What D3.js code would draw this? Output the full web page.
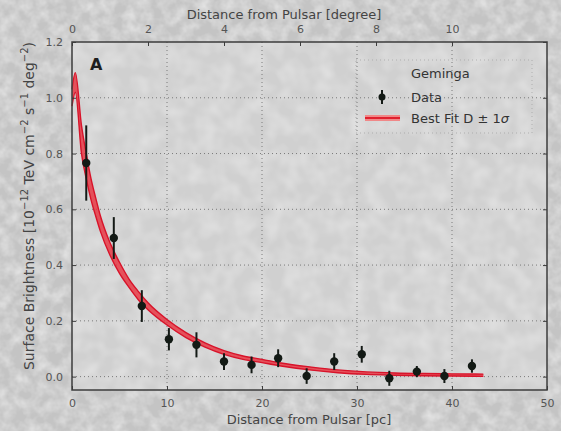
<!DOCTYPE html>
<html>
<head>
<meta charset="utf-8">
<script src="https://cdn.jsdelivr.net/npm/d3@7"></script>
<style>
  html, body { margin: 0; padding: 0; background: #c8c8c8; }
  svg { display: block; font-family: "DejaVu Sans", sans-serif; }
</style>
</head>
<body>
<svg id="chart" width="561" height="431"></svg>
<script>
// Radial profile of the TeV halo around Geminga
const dataDistance = [1.5, 4.4, 7.35, 10.2, 13.1, 16.0, 18.9, 21.7, 24.7, 27.6, 30.5, 33.4, 36.3, 39.2, 42.1];
const dataBrightness = [0.766, 0.497, 0.253, 0.134, 0.114, 0.054, 0.042, 0.066, 0.002, 0.054, 0.080, -0.006, 0.018, 0.002, 0.038];
const dataError = [0.135, 0.075, 0.057, 0.04, 0.045, 0.03, 0.03, 0.032, 0.028, 0.03, 0.03, 0.027, 0.02, 0.025, 0.024];

// Best-fit diffusion model envelope (D ± 1σ)
const fitDistance = [0, 0.35, 1.0, 1.5, 2.0, 2.5, 3.0, 4.0, 5.0, 6.0, 7.0, 8.0, 10, 12, 14, 16, 18, 20, 22, 25, 28, 31, 34, 37, 40, 43.3];
const fitUpper = [1.03, 1.09, 0.90, 0.80, 0.71, 0.64, 0.575, 0.48, 0.41, 0.35, 0.305, 0.265, 0.205, 0.158, 0.121, 0.093, 0.074, 0.062, 0.049, 0.035, 0.024, 0.017, 0.013, 0.011, 0.010, 0.009];
const fitLower = [0.97, 1.02, 0.80, 0.71, 0.635, 0.575, 0.52, 0.435, 0.37, 0.32, 0.275, 0.24, 0.185, 0.140, 0.106, 0.080, 0.062, 0.050, 0.038, 0.024, 0.014, 0.008, 0.005, 0.003, 0.002, 0.001];

const pcTicks = [0, 10, 20, 30, 40, 50];
const degreeTicks = [0, 2, 4, 6, 8, 10];
const brightnessTicks = [0.0, 0.2, 0.4, 0.6, 0.8, 1.0, 1.2];

const legendTitle = "Geminga";
const legendData = "Data";
const legendFit = "Best Fit D \u00b1 1";
const legendFitSymbol = "\u03c3";

const svg = d3.select("#chart");
const W = 561, H = 431;
const m = { left: 72, right: 547, top: 42, bottom: 390 };

const x = d3.scaleLinear().domain([0, 50]).range([m.left, m.right]);
const xDeg = d3.scaleLinear().domain([0, 12.5]).range([m.left, m.right]);
const y = d3.scaleLinear().domain([-0.048, 1.2]).range([m.bottom, m.top]);

// grainy backdrop
const defs = svg.append("defs");
const grain = defs.append("filter").attr("id", "grain").attr("x", 0).attr("y", 0).attr("width", "100%").attr("height", "100%");
grain.append("feTurbulence").attr("type", "fractalNoise").attr("baseFrequency", 0.08).attr("numOctaves", 3).attr("seed", 7).attr("result", "noise");
grain.append("feColorMatrix").attr("in", "noise").attr("type", "matrix")
  .attr("values", "0 0 0 0 1  0 0 0 0 1  0 0 0 0 1  0.9 0 0 0 -0.3");
const grainInner = defs.append("filter").attr("id", "grainInner").attr("x", 0).attr("y", 0).attr("width", "100%").attr("height", "100%");
grainInner.append("feTurbulence").attr("type", "fractalNoise").attr("baseFrequency", 0.06).attr("numOctaves", 2).attr("seed", 3).attr("result", "noise");
grainInner.append("feColorMatrix").attr("in", "noise").attr("type", "matrix")
  .attr("values", "0 0 0 0 1  0 0 0 0 1  0 0 0 0 1  0.6 0 0 0 -0.2");

svg.append("rect").attr("width", W).attr("height", H).attr("fill", "#c4c4c4");
svg.append("rect").attr("width", W).attr("height", H).attr("filter", "url(#grain)");
svg.append("rect").attr("x", m.left).attr("y", m.top).attr("width", m.right - m.left).attr("height", m.bottom - m.top)
  .attr("fill", "#d0d0d0");
svg.append("rect").attr("x", m.left).attr("y", m.top).attr("width", m.right - m.left).attr("height", m.bottom - m.top)
  .attr("filter", "url(#grainInner)");

// dotted grid
const grid = svg.append("g").attr("stroke", "#7a7a7a").attr("stroke-width", 1).attr("stroke-dasharray", "1,3");
grid.selectAll("line.v").data(pcTicks.filter(d => d > 0 && d < 50)).join("line")
  .attr("x1", d => x(d)).attr("x2", d => x(d)).attr("y1", m.top).attr("y2", m.bottom);
grid.selectAll("line.h").data(brightnessTicks.filter(d => d < 1.2)).join("line")
  .attr("x1", m.left).attr("x2", m.right).attr("y1", d => y(d)).attr("y2", d => y(d));

// fit envelope
const band = fitDistance.map((r, i) => ({ r, hi: fitUpper[i], lo: fitLower[i] }));
svg.append("path").datum(band)
  .attr("d", d3.area().x(d => x(d.r)).y0(d => y(d.lo)).y1(d => y(d.hi)).curve(d3.curveMonotoneX))
  .attr("fill", "#e8303c").attr("fill-opacity", 0.8);
["hi", "lo"].forEach(k => {
  svg.append("path").datum(band)
    .attr("d", d3.line().x(d => x(d.r)).y(d => y(d[k])).curve(d3.curveMonotoneX))
    .attr("fill", "none").attr("stroke", "#d8132a").attr("stroke-width", 1.4);
});

// data points with error bars
const pts = dataDistance.map((r, i) => ({ r, v: dataBrightness[i], e: dataError[i] }));
const pg = svg.append("g");
pg.selectAll("line").data(pts).join("line")
  .attr("x1", d => x(d.r)).attr("x2", d => x(d.r))
  .attr("y1", d => y(d.v + d.e)).attr("y2", d => y(d.v - d.e))
  .attr("stroke", "#141a16").attr("stroke-width", 2);
pg.selectAll("circle").data(pts).join("circle")
  .attr("cx", d => x(d.r)).attr("cy", d => y(d.v)).attr("r", 4.2)
  .attr("fill", "#131a15");

// frame
svg.append("rect").attr("x", m.left).attr("y", m.top).attr("width", m.right - m.left).attr("height", m.bottom - m.top)
  .attr("fill", "none").attr("stroke", "#3c3c3c").attr("stroke-width", 1.5);

// axes with inward ticks
const tickStyle = g => {
  g.select(".domain").remove();
  g.selectAll(".tick line").attr("stroke", "#3c3c3c");
  g.selectAll(".tick text").attr("fill", "#555").style("font-size", "11px").style("font-family", "DejaVu Sans");
};
svg.append("g").attr("transform", `translate(0,${m.bottom})`)
  .call(d3.axisBottom(x).tickValues(pcTicks).tickFormat(d3.format("d")).tickSizeInner(-4).tickPadding(9))
  .call(tickStyle);
svg.append("g").attr("transform", `translate(0,${m.top})`)
  .call(d3.axisTop(xDeg).tickValues(degreeTicks).tickFormat(d3.format("d")).tickSizeInner(-4).tickPadding(9))
  .call(tickStyle);
svg.append("g").attr("transform", `translate(${m.left},0)`)
  .call(d3.axisLeft(y).tickValues(brightnessTicks).tickFormat(d3.format(".1f")).tickSizeInner(-4).tickPadding(9))
  .call(tickStyle);
svg.append("g").attr("transform", `translate(${m.right},0)`)
  .call(d3.axisRight(y).tickValues(brightnessTicks).tickFormat("").tickSizeInner(-4))
  .call(tickStyle);

// axis titles
const titleFill = "#444";
svg.append("text").attr("x", 309).attr("y", 424)
  .attr("text-anchor", "middle").attr("fill", titleFill).style("font-size", "13px")
  .text("Distance from Pulsar [pc]");
svg.append("text").attr("x", 284).attr("y", 19)
  .attr("text-anchor", "middle").attr("fill", titleFill).style("font-size", "13px")
  .text("Distance from Pulsar [degree]");

const yl = svg.append("text").attr("transform", "translate(34,206) rotate(-90)")
  .attr("text-anchor", "middle").attr("fill", titleFill).style("font-size", "14px");
const sup = (t) => yl.append("tspan").attr("dy", -6).style("font-size", "10px").text(t);
const norm = (t) => yl.append("tspan").attr("dy", 6).text(t);
yl.append("tspan").text("Surface Brightness [10");
sup("\u221212"); norm(" TeV cm");
sup("\u22122"); norm(" s");
sup("\u22121"); norm(" deg");
sup("\u22122"); norm(")");

// panel letter
svg.append("text").attr("x", 90).attr("y", 70).attr("fill", "#1e1e1e")
  .style("font-size", "16px").style("font-weight", "bold").text("A");

// legend
const lg = svg.append("g");
lg.append("rect").attr("x", 356).attr("y", 60).attr("width", 176).attr("height", 73)
  .attr("fill", "none").attr("stroke", "#a5a5a5").attr("stroke-width", 0.8).attr("stroke-dasharray", "1,3");
lg.append("text").attr("x", 411).attr("y", 78).attr("fill", "#333").style("font-size", "13px").text(legendTitle);
lg.append("line").attr("x1", 382).attr("x2", 382).attr("y1", 90).attr("y2", 104)
  .attr("stroke", "#141a16").attr("stroke-width", 2);
lg.append("circle").attr("cx", 382).attr("cy", 97).attr("r", 3.5).attr("fill", "#131a15");
lg.append("text").attr("x", 411).attr("y", 102).attr("fill", "#333").style("font-size", "13px").text(legendData);
lg.append("rect").attr("x", 365).attr("y", 115).attr("width", 35).attr("height", 6)
  .attr("fill", "#f08888");
lg.append("line").attr("x1", 365).attr("x2", 400).attr("y1", 118).attr("y2", 118)
  .attr("stroke", "#e0202e").attr("stroke-width", 2);
const fitLabel = lg.append("text").attr("x", 411).attr("y", 123).attr("fill", "#333").style("font-size", "13px");
fitLabel.append("tspan").text(legendFit);
fitLabel.append("tspan").style("font-style", "italic").text(legendFitSymbol);
</script>
</body>
</html>
